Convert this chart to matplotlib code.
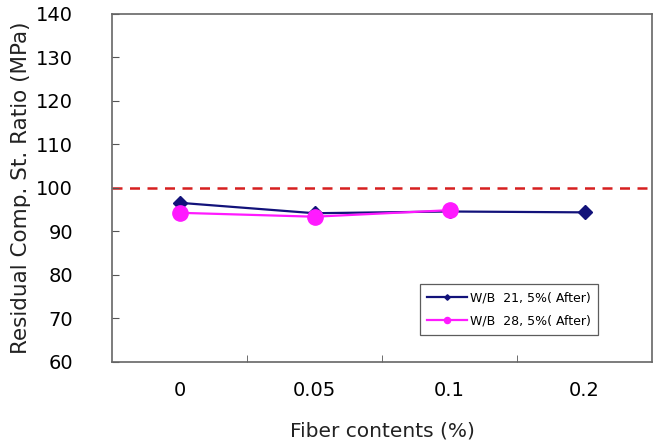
import matplotlib.pyplot as plt
import numpy as np

plt.rcParams["font.family"] = ["DejaVu Sans"]

categories = ["0", "0.05", "0.1", "0.2"]
wb21 = [96.6, 94.2, 94.6, 94.4]
wb28 = [94.3, 93.4, 94.9]
reference = 100

fig = plt.figure(figsize=(6.62, 4.47), dpi=100)
ax = fig.add_axes([112 / 662, 1 - 362 / 447, 540 / 662, 348 / 447])

x = np.arange(len(categories))
ax.axhline(reference, color="#d62020", ls=(0, (4, 3)), lw=1.8, zorder=1)
ax.plot(x, wb21, color="#12127a", marker="D", ms=7, lw=1.6,
        label="W/B  21, 5%( After)", zorder=3)
ax.plot(x[:len(wb28)], wb28, color="#ff1aff", marker="o", ms=11, lw=1.6,
        label="W/B  28, 5%( After)", zorder=4)

# aesthetics
fs = 14
ax.set_xlim(-0.5, len(categories) - 0.5)
ax.set_ylim(60, 140)
ax.set_yticks(np.arange(60, 141, 10))
ax.set_xticks(x)
ax.set_xticklabels(categories)
ax.set_xticks(x[:-1] + 0.5, minor=True)
ax.tick_params(axis="x", which="major", length=0, pad=14, labelsize=fs)
ax.tick_params(axis="x", which="minor", direction="in", length=5, color="#555555")
ax.tick_params(axis="y", direction="in", length=5, color="#555555", labelsize=fs, pad=28)
for s in ax.spines.values():
    s.set_color("#666666")
    s.set_linewidth(1.2)

ax.set_xlabel("Fiber contents (%)", fontsize=fs + 0.5, labelpad=15, color="#222222")
ax.set_ylabel("Residual Comp. St. Ratio (MPa)", fontsize=15.5, labelpad=4, color="#222222")

leg = ax.legend(loc="lower left", bbox_to_anchor=(0.57, 0.078), borderaxespad=0,
                fontsize=9, frameon=True, fancybox=False, edgecolor="#333333",
                markerscale=0.4, handlelength=3.2, borderpad=0.6, labelspacing=0.8,
                handletextpad=0.2)
leg.get_frame().set_linewidth(0.9)

fig.savefig("out.png", dpi=100)
